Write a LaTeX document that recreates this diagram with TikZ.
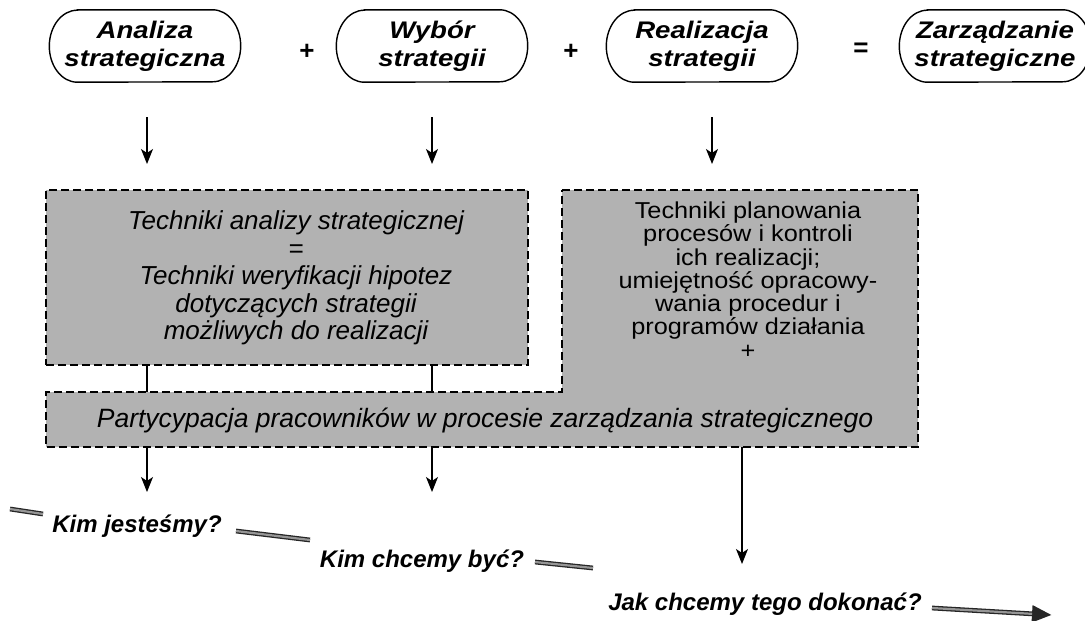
\documentclass[tikz,border=0pt]{standalone}
\usepackage{fontspec}
\setmainfont{Liberation Sans}
\newfontfamily\pillfont{Liberation Sans}[FakeStretch=1.15]
\newfontfamily\widefont{Liberation Sans}[FakeStretch=1.1]
\usetikzlibrary{arrows.meta}
\definecolor{boxgray}{RGB}{178,178,178}
\definecolor{trendgray}{RGB}{150,150,150}
% outline of a stage: straight top and bottom, parenthesis-like ends
\newcommand\pillpath[1]{%
  \draw[line width=1.4pt]
    ([xshift=28pt]#1.north west) -- ([xshift=-28pt]#1.north east)
    arc[start angle=90, end angle=-90, x radius=28pt, y radius=36pt]
    -- ([xshift=28pt]#1.south west)
    arc[start angle=270, end angle=90, x radius=28pt, y radius=36pt]
    -- cycle;}
\begin{document}
\begin{tikzpicture}[x=1pt,y=-1pt,
  pill/.style={minimum width=191pt, minimum height=72pt, inner sep=0pt, align=center,
    font=\pillfont\fontsize{24}{28}\selectfont\bfseries\itshape},
  opsign/.style={font=\fontsize{26}{26}\selectfont\bfseries},
  dashedbox/.style={draw, fill=boxgray, line width=1.2pt, dash pattern=on 8pt off 4pt},
  boxtext/.style={align=center, font=\fontsize{26}{27.5}\selectfont\itshape},
  plantext/.style={align=center, font=\widefont\fontsize{23}{23.3}\selectfont},
  question/.style={anchor=base, font=\fontsize{24}{28}\selectfont\bfseries\itshape},
  arr/.style={line width=1.2pt, -{Stealth[length=15pt,width=12pt,inset=4pt]}},
  link/.style={line width=1.2pt},
  trend/.style={draw=trendgray, line width=2.2pt, preaction={draw=black!85, line width=4.8pt}}
]
\useasboundingbox (0,0) rectangle (1085,621);
\clip (0,0) rectangle (1085,621);

% top row: the four stages of the equation
\node[pill] (p1) at (145,46) {Analiza\\strategiczna};
\node[opsign] (plus1) at (307,52) {+};
\node[pill] (p2) at (432,46) {Wybór\\strategii};
\node[opsign] (plus2) at (571,52) {+};
\node[pill] (p3) at (702,46) {Realizacja\\strategii};
\node[opsign] (eq) at (861,50) {=};
\node[pill] (p4) at (995,46) {Zarządzanie\\strategiczne};
\pillpath{p1}
\pillpath{p2}
\pillpath{p3}
\pillpath{p4}

% arrows from the stages down to the technique boxes
\coordinate (a1s) at (147,117);
\coordinate (a2s) at (432,117);
\coordinate (a3s) at (712,117);
\coordinate (a1e) at (147,164);
\coordinate (a2e) at (432,164);
\coordinate (a3e) at (712,164);
\draw[arr] (a1s) -- (a1e);
\draw[arr] (a2s) -- (a2e);
\draw[arr] (a3s) -- (a3e);

% box of analysis techniques
\node[dashedbox, minimum width=482pt, minimum height=175pt, inner sep=0pt] (b1) at (287,277.5) {};
\node[boxtext] (t1) at (296,278)
  {Techniki analizy strategicznej\\=\\Techniki weryfikacji hipotez\\dotyczących strategii\\możliwych do realizacji};

% L-shaped box: planning techniques plus participation bar
\coordinate (r1) at (562,190);
\coordinate (r2) at (918,190);
\coordinate (r3) at (918,447);
\coordinate (r4) at (46,447);
\coordinate (r5) at (46,392);
\coordinate (r6) at (562,392);
\path[dashedbox] (r1) -- (r2) -- (r3) -- (r4) -- (r5) -- (r6) -- cycle;
\node[plantext] (t2) at (748,280)
  {Techniki planowania\\procesów i kontroli\\ich realizacji;\\umiejętność opracowy-\\wania procedur i\\programów działania\\+};
\node[boxtext, font=\fontsize{26.5}{28}\selectfont\itshape] (t3) at (485,420)
  {Partycypacja pracowników w procesie zarządzania strategicznego};

% links from the analysis box into the bar
\coordinate (l1s) at (147,365);
\coordinate (l2s) at (432,365);
\coordinate (l1e) at (147,392);
\coordinate (l2e) at (432,392);
\draw[link] (l1s) -- (l1e);
\draw[link] (l2s) -- (l2e);

% arrows down to the questions
\coordinate (d1s) at (147,447);
\coordinate (d2s) at (432,447);
\coordinate (d3s) at (742,447);
\coordinate (d1e) at (147,492);
\coordinate (d2e) at (432,492);
\coordinate (d3e) at (742,564);
\draw[arr] (d1s) -- (d1e);
\draw[arr] (d2s) -- (d2e);
\draw[arr] (d3s) -- (d3e);

% the three questions
\node[question] (q1) at (137,532) {Kim jesteśmy?};
\node[question] (q2) at (422,567) {Kim chcemy być?};
\node[question] (q3) at (765,610) {Jak chcemy tego dokonać?};

% descending trend stroke broken by the questions
\coordinate (s1a) at (10,509);
\coordinate (s1b) at (43,514);
\coordinate (s2a) at (236,531);
\coordinate (s2b) at (310,540);
\coordinate (s3a) at (535,562);
\coordinate (s3b) at (593,568);
\coordinate (s4a) at (932,608);
\coordinate (s4b) at (1052,615);
\path[trend] (s1a) -- (s1b);
\path[trend] (s2a) -- (s2b);
\path[trend] (s3a) -- (s3b);
\draw[black!85, line width=4.8pt, -{Triangle[length=20pt,width=16pt]}] (s4a) -- (s4b);
\draw[trendgray, line width=2.2pt, shorten >=20pt] (s4a) -- (s4b);
\end{tikzpicture}
\end{document}
